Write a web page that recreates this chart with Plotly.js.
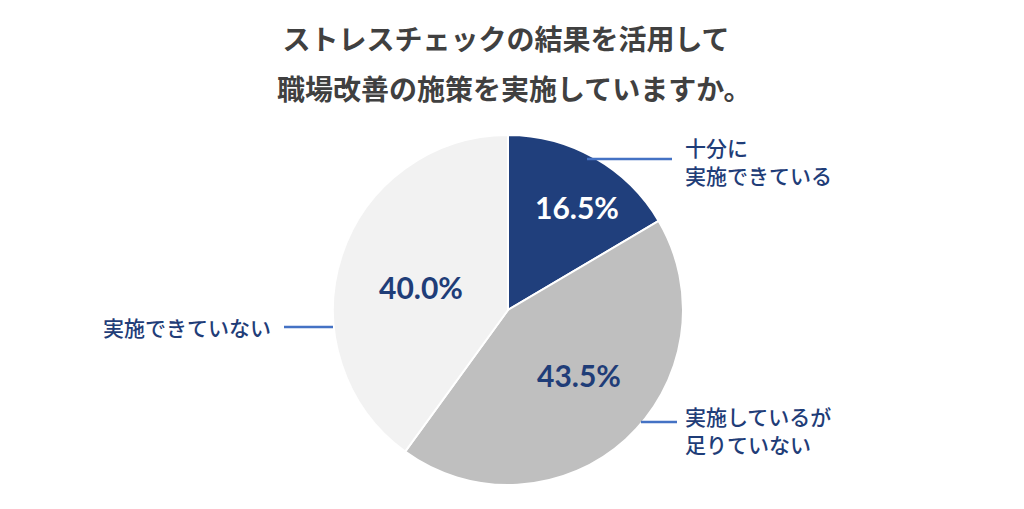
<!DOCTYPE html>
<html><head><meta charset="utf-8">
<script src="https://cdn.plot.ly/plotly-3.0.1.min.js"></script>
<style>html,body{margin:0;padding:0;background:#fff}#c{width:1024px;height:509px}</style>
</head><body><div id="c"></div>
<script>
const categories = ['十分に<br>実施できている', '実施しているが<br>足りていない', '実施できていない'];
const values = [16.5, 43.5, 40.0];
const titleLines = ['ストレスチェックの結果を活用して', '職場改善の施策を実施していますか。'];

const W = 1024, H = 509;
const px = x => x / W, py = y => 1 - y / H;
const labelColor = '#1F3D78', lineColor = '#4472C4';
const sliceColors = ['#203F7C', '#BFBFBF', '#F2F2F2'];
const pctColors = ['#FFFFFF', '#1F3D78', '#1F3D78'];
const pctPos = [[577, 207], [579, 375], [421, 287]];
const outPos = [[683, 147], [683, 416], [273, 327]];
const outAnchor = ['left', 'left', 'right'];
const lineStep = 28;
const leaders = [[587, 159, 672, 159], [641, 422, 677, 422], [284, 327, 333, 327]];

const jp = '"Noto Sans CJK JP", "Noto Sans", sans-serif';

const data = [{
  type: 'pie',
  labels: categories,
  values: values,
  sort: false,
  direction: 'clockwise',
  rotation: 0,
  textinfo: 'none',
  hoverinfo: 'none',
  marker: {colors: sliceColors, line: {color: '#FFFFFF', width: 2}},
  domain: {x: [px(333), px(683)], y: [py(485), py(135)]},
  showlegend: false
}];

const annotations = [];
values.forEach((v, i) => {
  annotations.push({
    xref: 'paper', yref: 'paper', x: px(pctPos[i][0]), y: py(pctPos[i][1]),
    xanchor: 'center', yanchor: 'middle', showarrow: false,
    text: '<b>' + v.toFixed(1) + '%</b>',
    font: {family: 'Lato, "Open Sans", sans-serif', size: 30, color: pctColors[i]}
  });
  categories[i].split('<br>').forEach((line, k) => {
    annotations.push({
      xref: 'paper', yref: 'paper', x: px(outPos[i][0]), y: py(outPos[i][1] + k * lineStep),
      xanchor: outAnchor[i], yanchor: 'middle', align: 'left', showarrow: false,
      text: line, height: 26,
      font: {family: jp, size: 21, color: labelColor, weight: 500}
    });
  });
});
annotations.push({
  xref: 'paper', yref: 'paper', x: px(514), y: py(88),
  xanchor: 'center', yanchor: 'middle', showarrow: false,
  text: titleLines[1],
  font: {family: jp, size: 28, color: '#404040', weight: 600}
});

const shapes = leaders.map(l => ({
  type: 'line', xref: 'paper', yref: 'paper',
  x0: px(l[0]), y0: py(l[1]), x1: px(l[2]), y1: py(l[3]),
  line: {color: lineColor, width: 2.5}
}));

const layout = {
  width: W, height: H,
  margin: {l: 0, r: 0, t: 0, b: 0},
  paper_bgcolor: '#FFFFFF',
  title: {
    text: titleLines[0],
    x: px(506), xanchor: 'center', y: py(40), yanchor: 'middle',
    font: {family: jp, size: 28, color: '#404040', weight: 600}
  },
  annotations: annotations,
  shapes: shapes
};

Plotly.newPlot('c', data, layout, {displayModeBar: false, staticPlot: true});
</script>
</body></html>
